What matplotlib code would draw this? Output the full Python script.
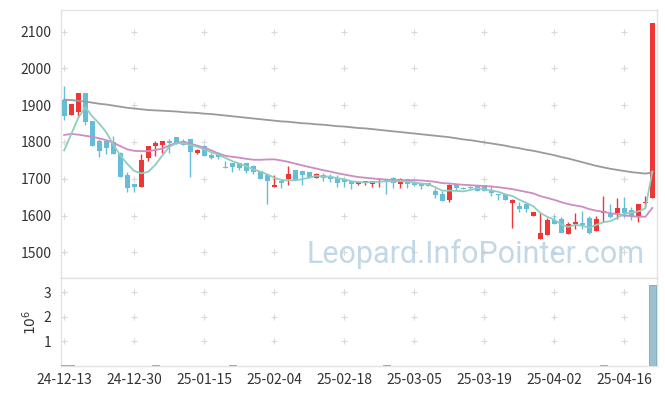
import numpy as np
import pandas as pd
import matplotlib
matplotlib.use('Agg')
import matplotlib.pyplot as plt

# ---------------- data ----------------
opens = [1915, 1873, 1881, 1932, 1856, 1802, 1802, 1799, 1771, 1709,
         1685, 1677, 1756, 1788, 1793, 1802, 1813, 1804, 1807, 1771,
         1789, 1765, 1770, 1733, 1742, 1743, 1742, 1735, 1721, 1711,
         1677, 1695, 1699, 1725, 1720, 1719, 1702, 1711, 1704, 1702,
         1700, 1695, 1685, 1688, 1685, 1690, 1696, 1703, 1685, 1698,
         1688, 1688, 1689, 1666, 1659, 1642, 1685, 1676, 1677, 1684,
         1682, 1666, 1659, 1659, 1634, 1626, 1630, 1599, 1537, 1548,
         1587, 1590, 1551, 1576, 1580, 1594, 1558, 1607, 1605, 1608,
         1620, 1614, 1599, 1634, 1648]
highs = [1951, 1904, 1932, 1932, 1856, 1807, 1802, 1815, 1774, 1718,
         1685, 1766, 1790, 1804, 1802, 1807, 1813, 1809, 1807, 1782,
         1793, 1771, 1772, 1748, 1742, 1743, 1742, 1738, 1721, 1712,
         1709, 1700, 1736, 1725, 1720, 1719, 1715, 1715, 1712, 1711,
         1700, 1695, 1695, 1695, 1695, 1703, 1698, 1704, 1702, 1698,
         1688, 1688, 1689, 1675, 1668, 1685, 1685, 1677, 1680, 1684,
         1682, 1682, 1659, 1659, 1646, 1637, 1635, 1609, 1608, 1594,
         1602, 1596, 1581, 1608, 1611, 1599, 1600, 1652, 1630, 1647,
         1650, 1623, 1632, 1652, 2124]
lows = [1861, 1873, 1870, 1847, 1789, 1759, 1766, 1767, 1704, 1664,
        1664, 1677, 1748, 1763, 1770, 1770, 1795, 1792, 1704, 1768,
        1761, 1755, 1754, 1729, 1718, 1725, 1715, 1714, 1698, 1630,
        1677, 1676, 1682, 1697, 1682, 1702, 1702, 1694, 1691, 1677,
        1677, 1673, 1683, 1684, 1677, 1677, 1659, 1676, 1675, 1676,
        1680, 1671, 1680, 1647, 1639, 1637, 1666, 1672, 1671, 1666,
        1666, 1652, 1641, 1641, 1566, 1609, 1609, 1599, 1537, 1546,
        1578, 1552, 1549, 1562, 1564, 1550, 1558, 1581, 1594, 1591,
        1596, 1587, 1581, 1623, 1648]
closes = [1872, 1902, 1932, 1854, 1789, 1775, 1783, 1767, 1704, 1675,
          1677, 1750, 1788, 1797, 1802, 1797, 1797, 1792, 1772, 1777,
          1763, 1757, 1759, 1729, 1732, 1729, 1720, 1718, 1698, 1695,
          1684, 1688, 1714, 1697, 1711, 1704, 1714, 1703, 1698, 1688,
          1691, 1686, 1692, 1693, 1693, 1695, 1693, 1689, 1698, 1687,
          1682, 1679, 1680, 1657, 1639, 1684, 1675, 1673, 1675, 1666,
          1666, 1661, 1655, 1641, 1641, 1617, 1617, 1609, 1552, 1587,
          1578, 1552, 1576, 1581, 1573, 1552, 1590, 1612, 1596, 1620,
          1608, 1600, 1632, 1636, 2124]
volumes = [50000, 50000, 10000, 10000, 10000, 10000, 10000, 10000, 10000, 10000,
           10000, 10000, 10000, 50000, 10000, 10000, 10000, 10000, 10000, 10000,
           10000, 10000, 10000, 10000, 50000, 10000, 10000, 10000, 10000, 10000,
           10000, 10000, 10000, 10000, 10000, 10000, 10000, 10000, 10000, 10000,
           10000, 10000, 10000, 10000, 10000, 10000, 50000, 10000, 10000, 10000,
           10000, 10000, 10000, 10000, 10000, 10000, 10000, 10000, 10000, 10000,
           10000, 10000, 10000, 10000, 10000, 10000, 10000, 10000, 10000, 10000,
           10000, 10000, 10000, 10000, 10000, 10000, 10000, 50000, 10000, 10000,
           10000, 10000, 10000, 10000, 3280000]
# leading moving-average values (they depend on days before the window)
ma5_head = [1777, 1821, 1865, 1895]
ma20_head = [1819, 1822, 1820, 1817, 1814, 1810, 1805, 1798, 1789, 1780,
             1776, 1775, 1775, 1778, 1782, 1790, 1798, 1800, 1796]
ma_long = [1915, 1914, 1912, 1910, 1907, 1904, 1902, 1899, 1896, 1893,
           1891, 1889, 1887, 1886, 1885, 1884, 1883, 1881, 1880, 1879,
           1877, 1876, 1874, 1872, 1870, 1868, 1866, 1864, 1862, 1860,
           1858, 1856, 1855, 1853, 1851, 1850, 1848, 1847, 1845, 1843,
           1842, 1840, 1838, 1837, 1835, 1833, 1831, 1829, 1827, 1825,
           1823, 1821, 1819, 1817, 1815, 1813, 1810, 1807, 1805, 1802,
           1799, 1796, 1793, 1790, 1786, 1783, 1779, 1776, 1772, 1768,
           1764, 1759, 1755, 1750, 1745, 1740, 1735, 1731, 1727, 1724,
           1721, 1718, 1716, 1714, 1717]
tick_pos = [0, 10, 20, 30, 40, 50, 60, 70, 80]
tick_labels = ['24-12-13', '24-12-30', '25-01-15', '25-02-04', '25-02-18',
               '25-03-05', '25-03-19', '25-04-02', '25-04-16']
price_ticks = [1500, 1600, 1700, 1800, 1900, 2000, 2100]
vol_ticks = [1e6, 2e6, 3e6]
vol_tick_labels = ['1', '2', '3']
watermark = 'Leopard.InfoPointer.com'

# ---------------- styling ----------------
UP = '#ee3636'
DOWN = '#66bdd8'
MA5_C = '#8fcdc0'
MA20_C = '#cc8cc6'
MAL_C = '#9a9a9a'
GRID_C = '#d9d9d9'
SPINE_C = '#e3e3e3'
TXT_C = '#333333'

plt.rcParams['font.family'] = ['Noto Sans CJK KR', 'DejaVu Sans']
plt.rcParams['mathtext.fontset'] = 'dejavusans'

n = len(closes)
x = np.arange(n)
o = np.array(opens, float)
h = np.array(highs, float)
l = np.array(lows, float)
c = np.array(closes, float)
up = c >= o
colors = np.where(up, UP, DOWN)

ma5 = pd.Series(c).rolling(5).mean().to_numpy()
ma5[:len(ma5_head)] = ma5_head
ma20 = pd.Series(c).rolling(20).mean().to_numpy()
ma20[:len(ma20_head)] = ma20_head

fig = plt.figure(figsize=(6.65, 3.96), dpi=100)
L, W = 61 / 665, (656.7 - 61) / 665
ax = fig.add_axes([L, 1 - 278 / 396, W, (278 - 10) / 396])
axv = fig.add_axes([L, 1 - 366 / 396, W, (366 - 278) / 396])

xlim = (-0.45, 84.62)

# price panel
ax.vlines(x, l, h, colors=colors, linewidth=1.0, zorder=2)
body_h = np.maximum(np.abs(c - o), 1.5)
ax.bar(x, body_h, bottom=np.minimum(o, c), width=0.72, color=colors,
       linewidth=0, zorder=3)
ax.plot(x, ma_long, color=MAL_C, linewidth=1.3, zorder=4)
ax.plot(x, ma20, color=MA20_C, linewidth=1.3, zorder=4)
ax.plot(x, ma5, color=MA5_C, linewidth=1.3, zorder=4)

ax.set_xlim(*xlim)
ax.set_ylim(1430, 2159)
ax.set_yticks(price_ticks)
ax.set_yticklabels([str(t) for t in price_ticks])
ax.set_xticks(tick_pos)
ax.tick_params(axis='x', labelbottom=False, length=0)
ax.tick_params(axis='y', length=0, pad=7, labelsize=10, labelcolor=TXT_C)
gx, gy = np.meshgrid(tick_pos, price_ticks)
ax.scatter(gx.ravel(), gy.ravel(), marker='+', s=18, color=GRID_C,
           linewidths=0.8, zorder=1)
ax.text(0.6955, 0.056, watermark, transform=ax.transAxes, ha='center',
        va='baseline', fontsize=22, color='#b2cddf', alpha=0.78,
        family=['Roboto', 'DejaVu Sans'], zorder=5)

# volume panel
axv.bar(x, volumes, width=0.95, color='#98c2d0', edgecolor='#77aabb',
        linewidth=0.6, zorder=3)
axv.set_xlim(*xlim)
axv.set_ylim(0, 3.58e6)
axv.set_yticks(vol_ticks)
axv.set_yticklabels(vol_tick_labels)
axv.set_xticks(tick_pos)
axv.set_xticklabels(tick_labels)
axv.tick_params(axis='both', length=0, labelsize=10, labelcolor=TXT_C)
axv.tick_params(axis='y', pad=7)
axv.tick_params(axis='x', pad=5)
gx, gy = np.meshgrid(tick_pos, vol_ticks)
axv.scatter(gx.ravel(), gy.ravel(), marker='+', s=18, color=GRID_C,
            linewidths=0.8, zorder=1)
axv.set_ylabel(r'$10^6$', fontsize=10, color=TXT_C, labelpad=3)

for a in (ax, axv):
    for s in a.spines.values():
        s.set_color(SPINE_C)
        s.set_linewidth(1.0)

fig.savefig('out.png', dpi=100)
